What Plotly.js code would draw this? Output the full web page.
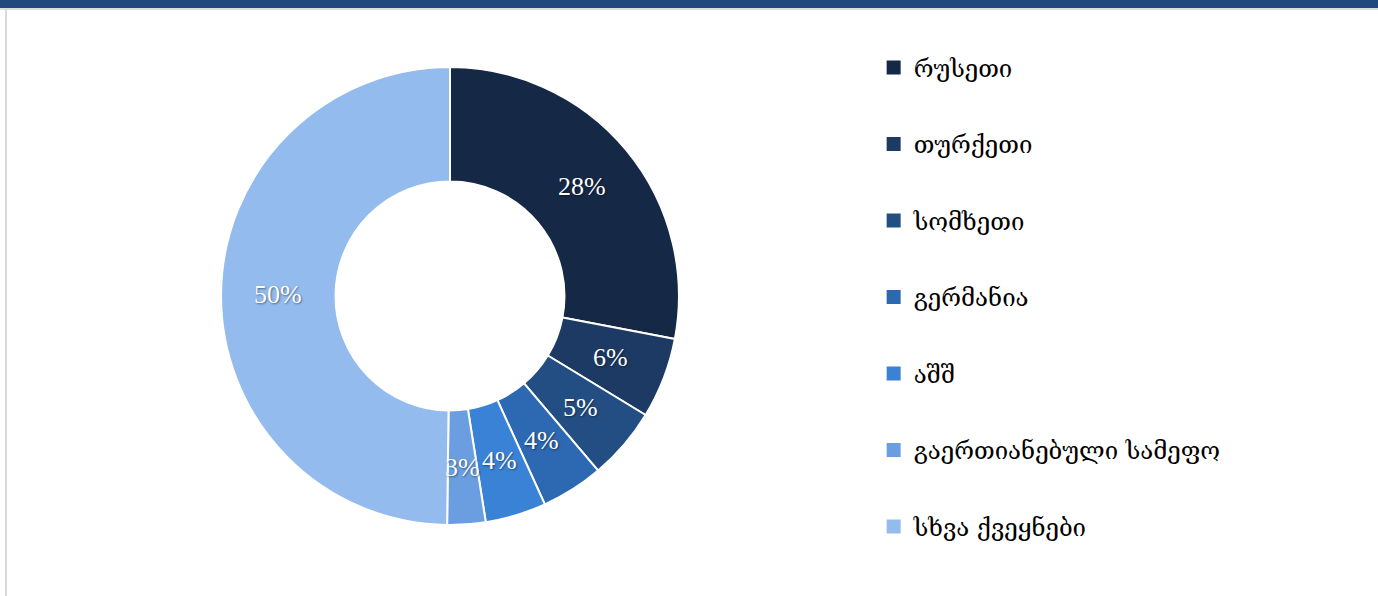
<!DOCTYPE html>
<html>
<head>
<meta charset="utf-8">
<script src="https://cdn.plot.ly/plotly-3.0.1.min.js"></script>
<style>html,body{margin:0;padding:0;background:#fff;}#chart{width:1378px;height:596px;}</style>
</head>
<body>
<div id="chart"></div>
<script>
const categories = ["რუსეთი", "თურქეთი", "სომხეთი", "გერმანია", "აშშ", "გაერთიანებული სამეფო", "სხვა ქვეყნები"];
const shares = [28.0, 5.7, 5.1, 4.4, 4.3, 2.7, 49.8];
const colors = ["#152845", "#1c3a64", "#234e84", "#2d68b2", "#3a82d6", "#6a9ee0", "#93bbed"];

const W = 1378, H = 596;
const domX = [0.1604, 0.4927], domY = [0.1191, 0.8876];
const HOLE = 0.5;

const pie = {
  type: "pie",
  labels: categories,
  values: shares,
  sort: false,
  direction: "clockwise",
  rotation: 0,
  hole: HOLE,
  marker: {colors: colors, line: {color: "#ffffff", width: 2}},
  textinfo: "none",
  textposition: "none",
  domain: {x: domX, y: domY},
  showlegend: false,
  hoverinfo: "label+percent"
};

const legendTraces = categories.map((c, i) => ({
  type: "scatter",
  mode: "markers",
  x: [null], y: [null],
  name: c,
  legendgroup: "g" + i,
  marker: {symbol: "square", size: 14, color: colors[i]},
  hoverinfo: "skip"
}));

// percentage labels at mid-ring, mid-angle of each slice (derived from the data)
const total = shares.reduce((a, b) => a + b, 0);
const cx = (domX[0] + domX[1]) / 2 * W;
const cy = (1 - (domY[0] + domY[1]) / 2) * H;
const R = Math.min((domX[1] - domX[0]) * W, (domY[1] - domY[0]) * H) / 2;
const rMid = R * (1 + HOLE) / 2;
let cum = 0;
const annotations = shares.map((v) => {
  const mid = (cum + v / 2) / total * 2 * Math.PI;
  cum += v;
  const px = cx + rMid * Math.sin(mid);
  const py = cy - rMid * Math.cos(mid);
  return {
    xref: "paper", yref: "paper",
    x: px / W, y: 1 - py / H,
    xanchor: "center", yanchor: "middle",
    text: Math.round(v / total * 100) + "%",
    showarrow: false,
    font: {family: "Liberation Serif, serif", size: 26, color: "#ffffff", shadow: "1px 1px 2px rgba(0,0,0,0.45)"}
  };
});

const layout = {
  width: W, height: H,
  margin: {l: 0, r: 0, t: 0, b: 0},
  paper_bgcolor: "#ffffff",
  plot_bgcolor: "#ffffff",
  xaxis: {visible: false},
  yaxis: {visible: false},
  showlegend: true,
  legend: {
    x: 0.634, xanchor: "left",
    y: 0.9238, yanchor: "top",
    traceorder: "grouped",
    tracegroupgap: 42.3,
    font: {family: "DejaVu Serif, DejaVu Sans, serif", size: 24, color: "#000000"},
    bgcolor: "rgba(0,0,0,0)"
  },
  annotations: annotations,
  shapes: [
    {type: "rect", xref: "paper", yref: "paper", x0: 0, x1: 1, y0: 1 - 8/596, y1: 1, fillcolor: "#1f497d", line: {width: 0}},
    {type: "rect", xref: "paper", yref: "paper", x0: 0, x1: 1, y0: 1 - 10/596, y1: 1 - 8/596, fillcolor: "#dcdcdc", line: {width: 0}},
    {type: "rect", xref: "paper", yref: "paper", x0: 5/1378, x1: 7/1378, y0: 0, y1: 1 - 8/596, fillcolor: "#d9d9d9", line: {width: 0}}
  ]
};

Plotly.newPlot("chart", [pie].concat(legendTraces), layout, {displayModeBar: false});
</script>
</body>
</html>
